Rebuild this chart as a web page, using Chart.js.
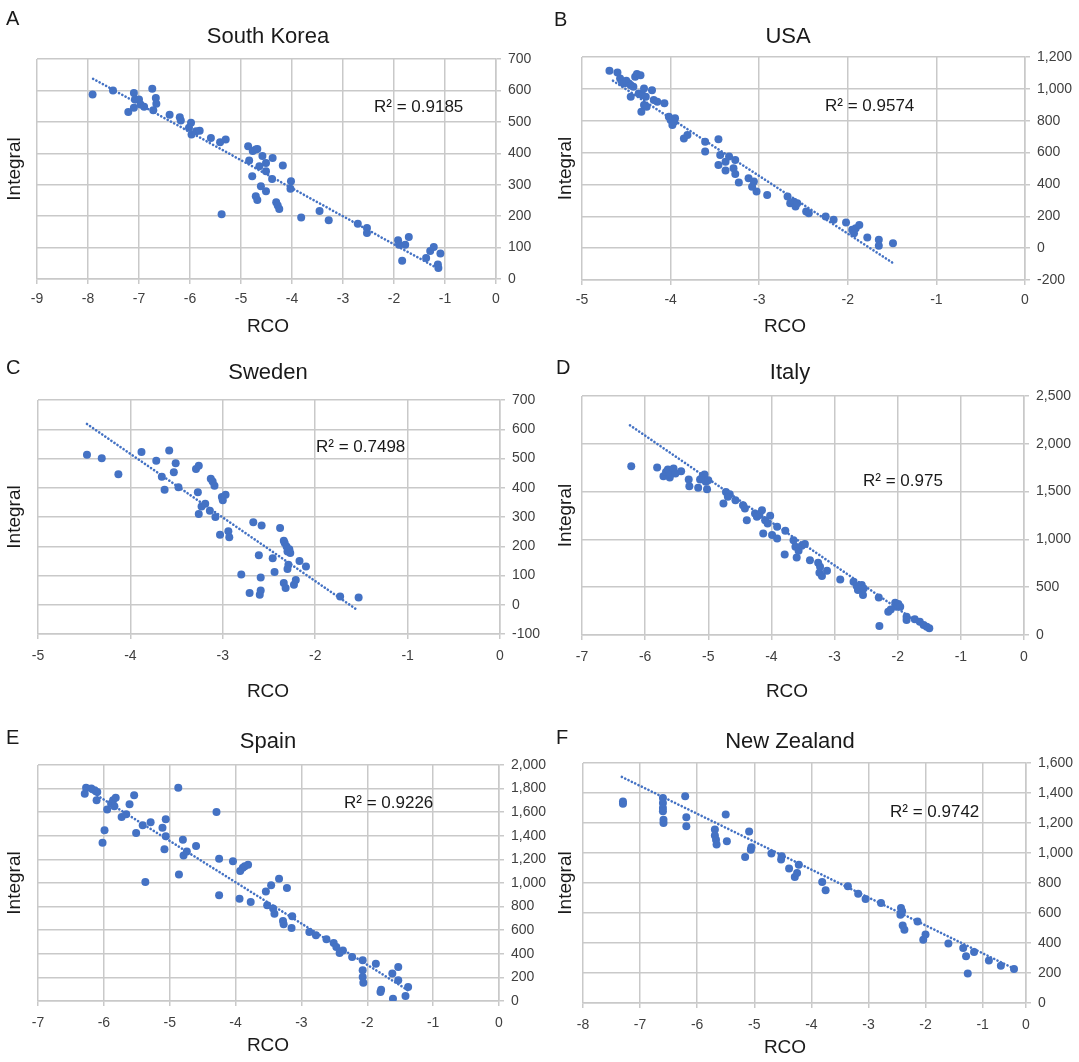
<!DOCTYPE html>
<html>
<head>
<meta charset="utf-8">
<title>RCO vs Integral</title>
<script src="https://cdn.jsdelivr.net/npm/chart.js@4.4.0/dist/chart.umd.min.js"></script>
<style>
    body { margin: 0; background: #fff; width: 1079px; height: 1062px; position: relative; overflow: hidden; }
    canvas { position: absolute; }
</style>
</head>
<body>
<canvas id="chartA" width="560" height="354" style="left:0;top:0"></canvas>
<canvas id="chartB" width="539" height="354" style="left:540px;top:0"></canvas>
<canvas id="chartC" width="560" height="354" style="left:0;top:354px"></canvas>
<canvas id="chartD" width="539" height="354" style="left:540px;top:354px"></canvas>
<canvas id="chartE" width="560" height="354" style="left:0;top:708px"></canvas>
<canvas id="chartF" width="539" height="354" style="left:540px;top:708px"></canvas>
<script>
// data points [RCO, Integral]
const southKorea = [
    [-7.91,587],[-7.51,600],[-7.21,531],[-7.10,592],[-7.08,571],[-7.10,545],[-7.00,571],[-6.97,555],
    [-6.90,548],[-6.74,605],[-6.67,576],[-6.66,558],[-6.72,537],[-6.40,523],[-6.20,515],[-6.18,504],
    [-5.98,497],[-6.02,481],[-5.97,460],[-5.88,470],[-5.81,472],[-5.59,449],[-5.41,435],[-5.30,444],
    [-5.38,206],[-4.86,422],[-4.77,407],[-4.71,412],[-4.68,414],[-4.84,377],[-4.58,391],[-4.51,369],
    [-4.64,359],[-4.51,343],[-4.38,385],[-4.18,361],[-4.78,327],[-4.39,318],[-4.02,311],[-4.03,287],
    [-4.61,295],[-4.51,279],[-4.71,263],[-4.68,251],[-4.31,244],[-4.28,234],[-4.25,223],[-3.82,196],
    [-3.46,216],[-3.28,187],[-2.71,176],[-2.53,162],[-2.53,146],[-1.92,123],[-1.90,109],[-1.78,109],
    [-1.71,134],[-1.84,58],[-1.37,67],[-1.29,89],[-1.22,102],[-1.09,81],[-1.14,46],[-1.13,35]
];
const usa = [
    [-4.69,1113],[-4.60,1103],[-4.57,1065],[-4.55,1044],[-4.53,1034],[-4.50,1051],[-4.47,1034],[-4.45,1023],
    [-4.42,1013],[-4.40,1076],[-4.38,1093],[-4.34,1086],[-4.45,950],[-4.36,971],[-4.32,961],[-4.30,1003],
    [-4.28,950],[-4.21,992],[-4.33,856],[-4.30,898],[-4.27,888],[-4.19,930],[-4.15,919],[-4.07,909],
    [-4.02,825],[-4.00,804],[-3.98,773],[-3.95,815],[-3.96,794],[-3.85,689],[-3.81,710],[-3.61,668],
    [-3.61,606],[-3.46,683],[-3.44,585],[-3.46,522],[-3.38,543],[-3.34,575],[-3.27,554],[-3.29,501],
    [-3.38,487],[-3.27,466],[-3.23,412],[-3.12,439],[-3.08,386],[-3.06,418],[-3.03,355],[-2.91,334],
    [-2.68,324],[-2.65,282],[-2.61,292],[-2.59,261],[-2.57,282],[-2.47,230],[-2.44,219],[-2.25,198],
    [-2.16,178],[-2.02,161],[-1.95,115],[-1.93,94],[-1.91,125],[-1.87,146],[-1.78,67],[-1.65,52],
    [-1.65,15],[-1.49,31]
];
const sweden = [
    [-4.47,513],[-4.31,501],[-4.13,446],[-3.88,522],[-3.72,492],[-3.66,438],[-3.63,393],[-3.58,527],
    [-3.53,453],[-3.51,484],[-3.48,402],[-3.29,464],[-3.26,475],[-3.27,385],[-3.26,310],[-3.23,336],
    [-3.19,345],[-3.14,321],[-3.13,431],[-3.11,421],[-3.09,407],[-3.08,300],[-3.01,368],[-3.00,357],
    [-2.97,376],[-3.03,239],[-2.94,251],[-2.93,231],[-2.80,103],[-2.71,40],[-2.67,282],[-2.61,169],
    [-2.60,34],[-2.59,49],[-2.59,93],[-2.58,271],[-2.46,159],[-2.44,112],[-2.38,262],[-2.34,219],
    [-2.34,74],[-2.33,211],[-2.32,57],[-2.31,199],[-2.30,182],[-2.29,137],[-2.30,122],[-2.28,190],
    [-2.27,177],[-2.23,68],[-2.21,85],[-2.17,150],[-2.10,131],[-1.73,28],[-1.53,25]
];
const italy = [
    [-6.22,1765],[-5.81,1751],[-5.71,1661],[-5.67,1706],[-5.64,1731],[-5.61,1647],[-5.60,1678],[-5.55,1741],
    [-5.52,1689],[-5.43,1713],[-5.31,1626],[-5.30,1556],[-5.16,1539],[-5.13,1626],[-5.09,1661],[-5.06,1678],
    [-5.04,1602],[-5.02,1525],[-5.00,1619],[-4.76,1375],[-4.72,1497],[-4.69,1445],[-4.66,1473],[-4.57,1410],
    [-4.45,1358],[-4.42,1323],[-4.39,1201],[-4.26,1271],[-4.23,1236],[-4.19,1254],[-4.15,1306],[-4.13,1062],
    [-4.10,1201],[-4.06,1166],[-4.02,1247],[-3.99,1045],[-3.91,1132],[-3.91,1010],[-3.78,1090],[-3.79,843],
    [-3.65,992],[-3.62,923],[-3.60,811],[-3.57,881],[-3.52,933],[-3.47,951],[-3.39,783],[-3.26,756],
    [-3.23,714],[-3.24,651],[-3.20,616],[-3.12,672],[-2.91,581],[-2.70,557],[-2.65,512],[-2.63,470],
    [-2.57,522],[-2.55,418],[-2.54,487],[-2.30,393],[-2.29,94],[-2.15,244],[-2.11,268],[-2.04,338],
    [-2.02,296],[-1.99,324],[-1.96,296],[-1.86,192],[-1.86,157],[-1.73,164],[-1.65,139],[-1.59,104],
    [-1.54,87],[-1.50,70]
];
const spain = [
    [-6.29,1757],[-6.27,1808],[-6.19,1800],[-6.14,1785],[-6.10,1771],[-6.11,1701],[-5.99,1446],[-6.02,1342],
    [-5.95,1622],[-5.89,1672],[-5.86,1701],[-5.82,1723],[-5.84,1650],[-5.73,1559],[-5.66,1582],[-5.61,1667],
    [-5.54,1743],[-5.51,1424],[-5.41,1489],[-5.37,1008],[-5.29,1514],[-5.11,1469],[-5.08,1285],[-5.06,1540],
    [-5.06,1396],[-4.87,1808],[-4.86,1071],[-4.80,1367],[-4.79,1234],[-4.74,1268],[-4.60,1314],[-4.29,1602],
    [-4.25,1206],[-4.25,896],[-4.04,1184],[-3.94,867],[-3.93,1102],[-3.89,1130],[-3.86,1141],[-3.81,1155],
    [-3.77,839],[-3.54,929],[-3.52,811],[-3.46,980],[-3.43,783],[-3.41,740],[-3.34,1037],[-3.28,678],
    [-3.27,650],[-3.22,958],[-3.14,718],[-3.15,619],[-2.88,585],[-2.78,557],[-2.62,523],[-2.51,492],
    [-2.47,458],[-2.42,407],[-2.37,429],[-2.23,373],[-2.07,345],[-2.07,260],[-2.07,203],[-2.06,155],
    [-1.87,316],[-1.80,76],[-1.79,96],[-1.62,232],[-1.61,20],[-1.53,288],[-1.53,175],[-1.42,42],[-1.38,119]
];
const newZealand = [
    [-7.30,1344],[-7.30,1329],[-6.60,1367],[-6.60,1333],[-6.60,1300],[-6.60,1278],[-6.59,1222],[-6.59,1200],
    [-6.21,1378],[-6.19,1238],[-6.19,1178],[-5.69,1156],[-5.69,1116],[-5.67,1089],[-5.66,1056],[-5.50,1256],
    [-5.48,1078],[-5.16,973],[-5.09,1144],[-5.06,1022],[-5.05,1038],[-4.70,996],[-4.53,956],[-4.52,978],
    [-4.39,896],[-4.29,840],[-4.25,867],[-4.22,922],[-3.81,807],[-3.75,751],[-3.36,778],[-3.18,729],
    [-3.05,693],[-2.78,667],[-2.43,633],[-2.44,589],[-2.41,611],[-2.40,516],[-2.37,489],[-2.14,544],
    [-2.04,422],[-2.00,456],[-1.60,396],[-1.34,367],[-1.29,311],[-1.26,196],[-1.15,340],[-0.89,284],
    [-0.68,249],[-0.45,227]
];

// linear trendline ends
const trendA = [[-7.90,637],[-1.10,30]];
const trendB = [[-4.65,1051],[-1.50,-90]];
const trendC = [[-4.47,618],[-1.54,-19]];
const trendD = [[-6.24,2194],[-1.49,45]];
const trendE = [[-6.29,1808],[-1.38,90]];
const trendF = [[-7.32,1507],[-0.41,222]];

const r2Labels = ['R² = 0.9185', 'R² = 0.9574', 'R² = 0.7498', 'R² = 0.975', 'R² = 0.9226', 'R² = 0.9742'];
const countries = ['South Korea', 'USA', 'Sweden', 'Italy', 'Spain', 'New Zealand'];
const letters = ['A', 'B', 'C', 'D', 'E', 'F'];

// axis ranges [min, max, step]
const xRanges = [[-9,0,1],[-5,0,1],[-5,0,1],[-7,0,1],[-7,0,1],[-8,-0.24,1]];
const yRanges = [[0,700,100],[-200,1200,200],[-100,700,100],[0,2500,500],[0,2000,200],[0,1600,200]];

// panel layout (pixels inside each canvas)
const panels = [
    { id: 'chartA', data: southKorea, trend: trendA, pad: [37,59], yW: 64, xH: 75, tickPad: 7,
      letter: [6,19], title: [268,37], r2: [374,107], rco: [268,327], integralX: 15 },
    { id: 'chartB', data: usa, trend: trendB, pad: [42,57], yW: 54, xH: 74, tickPad: 7,
      letter: [14,20], title: [248,37], r2: [285,106], rco: [245,327], integralX: 26 },
    { id: 'chartC', data: sweden, trend: trendC, pad: [38,46], yW: 60, xH: 74, tickPad: 9,
      letter: [6,14], title: [268,19], r2: [316,93], rco: [268,338], integralX: 15 },
    { id: 'chartD', data: italy, trend: trendD, pad: [42,42], yW: 55, xH: 73, tickPad: 9,
      letter: [16,14], title: [250,19], r2: [323,127], rco: [247,338], integralX: 26 },
    { id: 'chartE', data: spain, trend: trendE, pad: [38,57], yW: 61, xH: 61, tickPad: 9,
      letter: [6,30], title: [268,34], r2: [344,95], rco: [268,338], integralX: 15 },
    { id: 'chartF', data: newZealand, trend: trendF, pad: [43,55], yW: 53, xH: 59, tickPad: 9,
      letter: [16,30], title: [250,34], r2: [350,104], rco: [245,340], integralX: 26 }
];

const FONT = '"Liberation Sans", Arial, sans-serif';
const BLUE = '#4472c4';
const GRID = '#c9c9c9';

// texts drawn around the plot (letter, title, R², axis names)
const panelText = {
    id: 'panelText',
    afterDraw(chart, args, opts) {
        const ctx = chart.ctx;
        const area = chart.chartArea;
        ctx.save();
        ctx.fillStyle = '#1a1a1a';
        ctx.textBaseline = 'middle';

        ctx.textAlign = 'left';
        ctx.font = `20px ${FONT}`;
        ctx.fillText(opts.letter, opts.letterPos[0], opts.letterPos[1]);

        ctx.textAlign = 'center';
        ctx.font = `22px ${FONT}`;
        ctx.fillText(opts.title, opts.titlePos[0], opts.titlePos[1]);

        ctx.textAlign = 'left';
        ctx.font = `17px ${FONT}`;
        ctx.fillText(opts.r2, opts.r2Pos[0], opts.r2Pos[1]);

        ctx.textAlign = 'center';
        ctx.font = `19px ${FONT}`;
        ctx.fillText('RCO', opts.rcoPos[0], opts.rcoPos[1]);

        ctx.translate(opts.integralX, (area.top + area.bottom) / 2);
        ctx.rotate(-Math.PI / 2);
        ctx.fillText('Integral', 0, 0);
        ctx.restore();
    }
};

function buildChart(p, i) {
    const [xMin, xMax, xStep] = xRanges[i];
    const [yMin, yMax, yStep] = yRanges[i];
    const ctx = document.getElementById(p.id).getContext('2d');

    return new Chart(ctx, {
        type: 'scatter',
        data: {
            datasets: [{
                data: p.trend.map(d => ({ x: d[0], y: d[1] })),
                showLine: true,
                borderColor: BLUE,
                borderWidth: 2.6,
                borderDash: [0.1, 3.6],
                borderCapStyle: 'round',
                pointRadius: 0,
                order: 0
            }, {
                data: p.data.map(d => ({ x: d[0], y: d[1] })),
                backgroundColor: BLUE,
                borderWidth: 0,
                pointRadius: 4,
                order: 1
            }]
        },
        options: {
            responsive: false,
            animation: false,
            locale: 'en-US',
            layout: { padding: { left: p.pad[0], top: p.pad[1], right: 0, bottom: 0 } },
            plugins: {
                legend: { display: false },
                tooltip: { enabled: false },
                panelText: {
                    letter: letters[i], letterPos: p.letter,
                    title: countries[i], titlePos: p.title,
                    r2: r2Labels[i], r2Pos: p.r2,
                    rcoPos: p.rco, integralX: p.integralX
                }
            },
            scales: {
                x: {
                    type: 'linear',
                    min: xMin, max: xMax,
                    afterFit: s => { s.height = p.xH; },
                    afterBuildTicks: s => {
                        // last tick sits on the axis end (New Zealand axis stops short of 0)
                        const ticks = [];
                        for (let v = xMin; v <= Math.floor(xMax) + 1e-9; v += xStep) ticks.push({ value: v });
                        if (ticks[ticks.length - 1].value !== xMax) ticks.push({ value: xMax });
                        s.ticks = ticks;
                    },
                    ticks: {
                        color: '#404040',
                        font: { family: FONT, size: 14 },
                        padding: p.tickPad,
                        maxRotation: 0,
                        callback: v => (v === xMax ? '0' : String(v))
                    },
                    grid: { color: GRID, lineWidth: 1.5, tickLength: 5 },
                    border: { color: GRID, width: 1.5 }
                },
                y: {
                    position: 'right',
                    min: yMin, max: yMax,
                    afterFit: s => { s.width = p.yW; },
                    ticks: {
                        stepSize: yStep,
                        color: '#404040',
                        font: { family: FONT, size: 14 },
                        padding: 7
                    },
                    grid: { color: GRID, lineWidth: 1.5, tickLength: 5 },
                    border: { color: GRID, width: 1.5 }
                }
            }
        },
        plugins: [panelText]
    });
}

window.onload = () => panels.forEach(buildChart);
</script>
</body>
</html>
